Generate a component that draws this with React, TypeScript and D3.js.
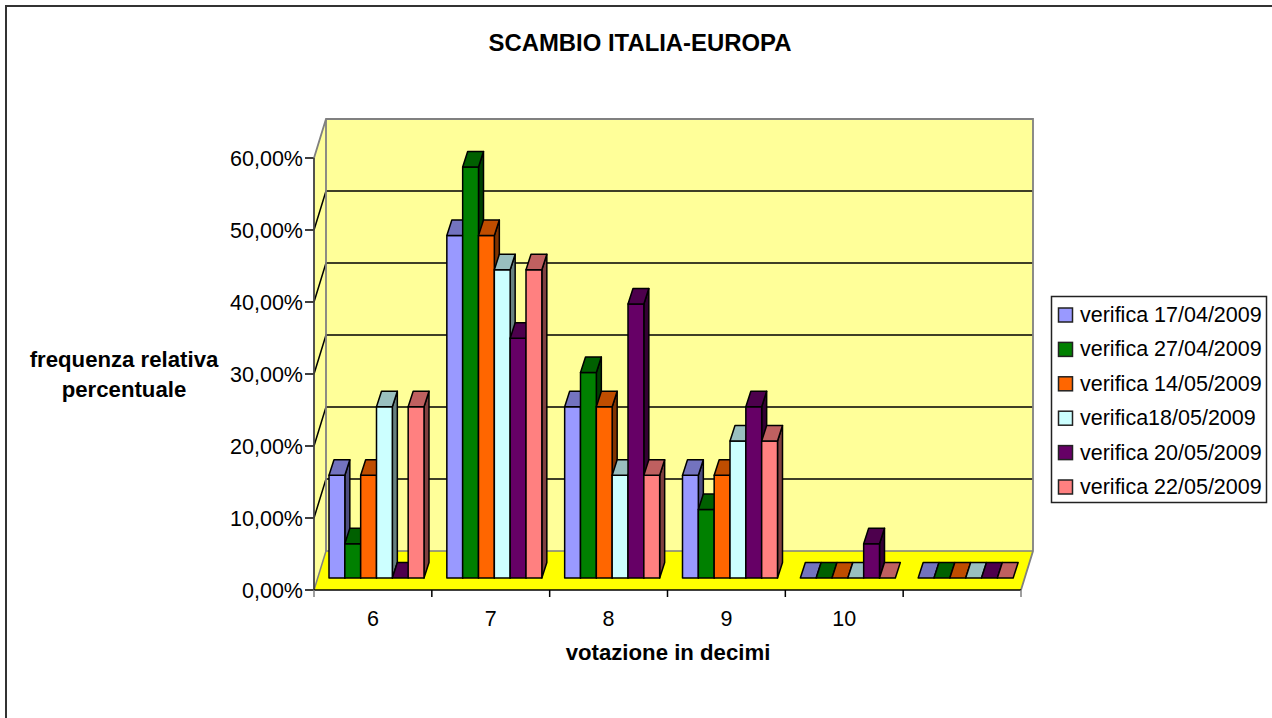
import React from "react";
import { scaleBand, scaleLinear, range } from "d3";

const categories = ["6", "7", "8", "9", "10", ""];
const seriesNames = [
  "verifica 17/04/2009",
  "verifica 27/04/2009",
  "verifica 14/05/2009",
  "verifica18/05/2009",
  "verifica 20/05/2009",
  "verifica 22/05/2009",
];
const seriesColors = ["#9999FF", "#008000", "#FF6600", "#CCFFFF", "#660066", "#FF8080"];
const topColors = ["#7373BF", "#006000", "#BF4D00", "#99BFBF", "#4D004D", "#BF6060"];
const sideColors = ["#4D4D80", "#004000", "#803300", "#668080", "#330033", "#804040"];

const verifica1 = [15, 50, 25, 15, 0, 0];
const verifica2 = [5, 60, 30, 10, 0, 0];
const verifica3 = [15, 50, 25, 15, 0, 0];
const verifica4 = [25, 45, 15, 20, 0, 0];
const verifica5 = [0, 35, 40, 25, 5, 0];
const verifica6 = [25, 45, 15, 20, 0, 0];
const seriesValues = [verifica1, verifica2, verifica3, verifica4, verifica5, verifica6];

const yTicks = [0, 10, 20, 30, 40, 50, 60];

const font = "'Liberation Sans', Arial, sans-serif";
const depth = { x: 12, y: 39 };
const barDepth = { x: 5, y: 15.5 };
const floorY = 590;
const barBase = 578;

const xScale = scaleBand<string>().domain(categories.map((c, i) => i + c)).range([314, 1021]);
const yScale = scaleLinear().domain([0, 60]).range([floorY, 158]);
// the bars stand in the middle of the floor and Excel draws them a bit shorter than the axis
const barScale = scaleLinear().domain([0, 60]).range([barBase, 167]);
const seriesScale = scaleBand<number>().domain(range(6)).range([15, 110]);

const pts = (p: number[][]) => p.map((d) => d.join(",")).join(" ");

export default function App() {
  const left = 314;
  const right = 1021;
  const top = yScale(60);
  return (
    <svg
      width={1272}
      height={718}
      style={{ position: "absolute", left: 0, top: 0, background: "#fff", fontFamily: font }}
    >
      <path d="M6,718V6H1272" fill="none" stroke="#333" strokeWidth={2} />
      <text x={640} y={51} textAnchor="middle" fontSize={23.9} fontWeight="bold">
        SCAMBIO ITALIA-EUROPA
      </text>

      {/* walls and floor */}
      <polygon
        points={pts([
          [left, floorY],
          [left + depth.x, floorY - depth.y],
          [left + depth.x, top - depth.y],
          [left, top],
        ])}
        fill="#FFFF99"
      />
      <rect
        x={left + depth.x}
        y={top - depth.y}
        width={right - left}
        height={floorY - top}
        fill="#FFFF99"
      />
      <polygon
        points={pts([
          [left, floorY],
          [left + depth.x, floorY - depth.y],
          [right + depth.x, floorY - depth.y],
          [right, floorY],
        ])}
        fill="#FFFF00"
      />
      {yTicks.map((t) => (
        <g key={t}>
          <line
            x1={left - 9}
            x2={left}
            y1={yScale(t)}
            y2={yScale(t)}
            stroke="#000"
            strokeWidth={1.5}
          />
          {t > 0 && t < 60 && (
            <polyline
              points={pts([
                [left, yScale(t)],
                [left + depth.x, yScale(t) - depth.y],
                [right + depth.x, yScale(t) - depth.y],
              ])}
              fill="none"
              stroke="#000"
              strokeWidth={1.5}
            />
          )}
          <text x={303} y={yScale(t) + 7.5} textAnchor="end" fontSize={21.5}>
            {t},00%
          </text>
        </g>
      ))}
      <polyline
        points={pts([
          [left, floorY],
          [left + depth.x, floorY - depth.y],
          [right + depth.x, floorY - depth.y],
        ])}
        fill="none"
        stroke="#808080"
        strokeWidth={1.5}
      />
      <polyline
        points={pts([
          [left, top],
          [left + depth.x, top - depth.y],
          [right + depth.x, top - depth.y],
          [right + depth.x, floorY - depth.y],
          [right, floorY],
        ])}
        fill="none"
        stroke="#808080"
        strokeWidth={1.8}
      />
      <line x1={left + depth.x} x2={left + depth.x} y1={top - depth.y} y2={floorY - depth.y} stroke="#808080" strokeWidth={1.8} />

      {/* bars, painted left to right so each one covers its neighbour's side */}
      {xScale.domain().map((c, ci) =>
        seriesValues.map((values, si) => {
          const x0 = (xScale(c) as number) + (seriesScale(si) as number);
          const x1 = x0 + seriesScale.bandwidth();
          const yTop = barScale(values[ci]);
          return (
            <g key={c + si} stroke="#000" strokeWidth={1.5} strokeLinejoin="round">
              {values[ci] > 0 && (
                <>
                  <polygon
                    points={pts([
                      [x1, barBase],
                      [x1 + barDepth.x, barBase - barDepth.y],
                      [x1 + barDepth.x, yTop - barDepth.y],
                      [x1, yTop],
                    ])}
                    fill={sideColors[si]}
                  />
                  <rect x={x0} y={yTop} width={x1 - x0} height={barBase - yTop} fill={seriesColors[si]} />
                </>
              )}
              <polygon
                points={pts([
                  [x0, yTop],
                  [x0 + barDepth.x, yTop - barDepth.y],
                  [x1 + barDepth.x, yTop - barDepth.y],
                  [x1, yTop],
                ])}
                fill={topColors[si]}
              />
            </g>
          );
        })
      )}

      {/* axes */}
      <line x1={left} x2={left} y1={top} y2={floorY} stroke="#404040" strokeWidth={1.8} />
      <line x1={left} x2={right} y1={floorY} y2={floorY} stroke="#000" strokeWidth={1.5} />
      {xScale.domain().map((c, i) => (
        <g key={c}>
          <line
            x1={xScale(c) as number}
            x2={xScale(c) as number}
            y1={floorY}
            y2={597}
            stroke={i === 0 ? "#808080" : "#000"}
            strokeWidth={1.5}
          />
          <text
            x={(xScale(c) as number) + xScale.bandwidth() / 2}
            y={626}
            textAnchor="middle"
            fontSize={21.5}
          >
            {categories[i]}
          </text>
        </g>
      ))}
      <line x1={right} x2={right} y1={floorY} y2={597} stroke="#808080" strokeWidth={1.5} />

      <text x={668} y={660} textAnchor="middle" fontSize={22.2} fontWeight="bold">
        votazione in decimi
      </text>
      <text textAnchor="middle" fontSize={22.2} fontWeight="bold">
        <tspan x={124} y={367}>frequenza relativa</tspan>
        <tspan x={124} y={397}>percentuale</tspan>
      </text>

      {/* legend */}
      <rect x={1051.5} y={296.5} width={215} height={206} fill="#fff" stroke="#222" strokeWidth={1.5} />
      {seriesNames.map((name, i) => (
        <g key={name}>
          <rect
            x={1058.5}
            y={308 + i * 34.4}
            width={14}
            height={14}
            fill={seriesColors[i]}
            stroke="#222"
            strokeWidth={1.5}
          />
          <text x={1080} y={322 + i * 34.4} fontSize={21.5}>
            {name}
          </text>
        </g>
      ))}
    </svg>
  );
}
